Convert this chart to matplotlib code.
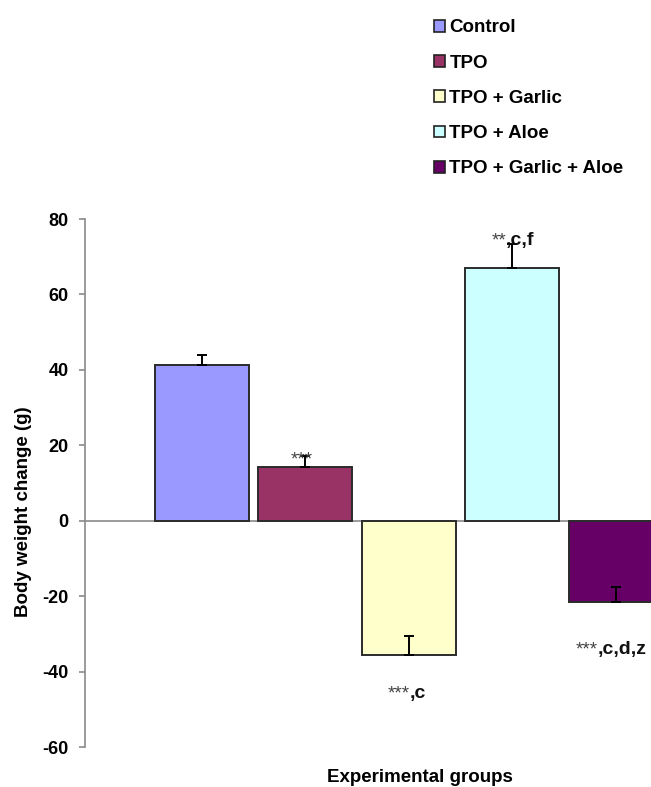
import matplotlib
matplotlib.use("Agg")
import matplotlib.pyplot as plt
from matplotlib.patches import Patch

plt.rcParams['font.family'] = ['Liberation Sans', 'DejaVu Sans']

groups = ["Control", "TPO", "TPO + Garlic", "TPO + Aloe", "TPO + Garlic + Aloe"]
values = [41.3, 14.2, -35.5, 66.9, -21.5]
errors = [2.7, 3.0, 4.9, 6.4, 3.8]
colors = ["#9999FF", "#993366", "#FFFFCC", "#CCFFFF", "#660066"]
marks = ["", "***", "***,c", "**,c,f", "***,c,d,z"]
yticks = [-60, -40, -20, 0, 20, 40, 60, 80]

fig = plt.figure(figsize=(6.51, 7.87), dpi=100)
ax = fig.add_axes([85 / 651, 1 - 747 / 787, 1 - 85 / 651, (747 - 219) / 787])

x = list(range(len(groups)))
ax.bar(x, values, width=0.908, color=colors, edgecolor="#2b2b2b",
       linewidth=1.4, zorder=2)
ax.errorbar(x, values, yerr=[[0] * len(errors), errors], fmt="none",
            ecolor="black", elinewidth=1.4, capsize=3.5, capthick=1.4, zorder=3)
ax.axhline(0, color="#8a8a8a", linewidth=1.2, zorder=1)

ax.set_xlim(-1.126, 4.343)
ax.set_ylim(-60, 80)
ax.set_yticks(yticks)
ax.set_yticklabels([str(t) for t in yticks], fontsize=13, fontweight="bold")
ax.set_xticks([])
for side in ("top", "right", "bottom"):
    ax.spines[side].set_visible(False)
ax.spines["left"].set_color("#8a8a8a")
ax.spines["left"].set_linewidth(1.2)
ax.tick_params(axis="y", direction="out", length=4.3, width=1.2, color="#8a8a8a", pad=7.5)

# significance marks: stars in regular weight, letter codes in bold,
# joined at a split point; baseline set relative to the bar end / error tip
label_shift = {1: (0.075, -2.3), 2: (0.01, -11.6), 3: (-0.058, -0.2), 4: (-0.174, -13.9)}
for i, m in enumerate(marks):
    if not m:
        continue
    dx, dy = label_shift[i]
    base = values[i] + errors[i] if values[i] >= 0 else values[i]
    stars = m.rstrip(",cdfz")
    letters = m[len(stars):]
    ax.text(i + dx, base + dy, stars, ha="right", va="baseline", fontsize=13.5,
            color="#444444", zorder=4, clip_on=False)
    if letters:
        ax.text(i + dx, base + dy, letters, ha="left", va="baseline", fontsize=14,
                fontweight="bold", color="#111111", zorder=4, clip_on=False)

fig.text(24 / 651, 1 - 512 / 787, "Body weight change (g)", rotation=90,
         ha="center", va="center", fontsize=13.5, fontweight="bold")
fig.text(420 / 651, 1 - 778 / 787, "Experimental groups", ha="center",
         va="center", fontsize=13.5, fontweight="bold")

handles = [Patch(facecolor=c, edgecolor="#222222", linewidth=1.2) for c in colors]
fig.legend(handles, groups, loc="upper left", bbox_to_anchor=(426 / 651, 1 - 12 / 787),
           frameon=False, prop={"weight": "bold", "size": 13.5},
           handlelength=0.6, handleheight=0.6, handletextpad=0.25, labelspacing=0.97,
           borderaxespad=0)

fig.savefig("out.png", dpi=100)
